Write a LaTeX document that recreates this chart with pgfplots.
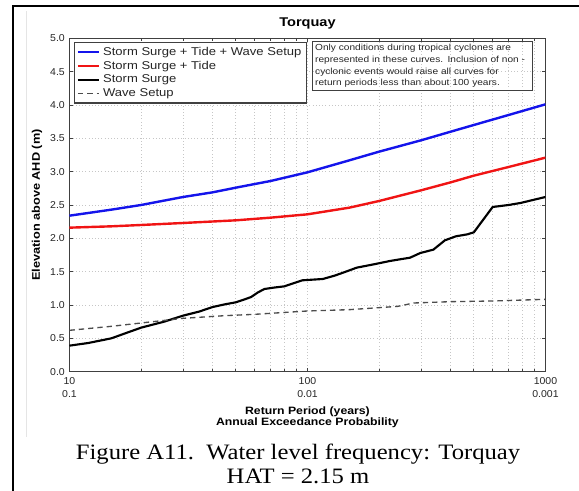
\documentclass[border=0pt]{standalone}
\usepackage{pgfplots}
\pgfplotsset{compat=1.18}
\usepackage{fontspec}
\setmainfont{Liberation Sans}[FakeStretch=1.15]
\newfontfamily\tickfont{Liberation Sans}[FakeStretch=1.05]
\newfontfamily\timesfont{Liberation Serif}[FakeStretch=1.12]
\definecolor{surgeblue}{RGB}{20,20,235}
\definecolor{surgered}{RGB}{240,20,20}

\begin{document}
\begin{tikzpicture}
\path[use as bounding box] (0,0) rectangle (434.25pt,368.25pt);
% table cell border
\draw[line width=0.8pt] (9.75pt,0) -- (9.75pt,363.75pt) -- (434.25pt,363.75pt);
\draw[gray!20,line width=0.6pt] (19.5pt,40.5pt) -- (19.5pt,360pt);

\begin{axis}[
 at={(52.1pt,89.5pt)},anchor=south west,
 scale only axis,width=357pt,height=250pt,
 xmode=log,xmin=10,xmax=1000,ymin=0,ymax=5,
 xtick={10,100,1000},
 xticklabels={{10\\0.1},{100\\0.01},{1000\\0.001}},
 ytick={0,0.5,...,5},
 yticklabel style={/pgf/number format/.cd,fixed,fixed zerofill,precision=1},
 /pgf/number format/assume math mode=true,
 tick label style={font=\tickfont\fontsize{7.5}{9.75}\selectfont,text=black!85},
 xticklabel style={align=center,yshift=-1pt},
 tick align=inside,
 major tick length=3pt,minor tick length=2pt,
 tick style={black!75,line width=0.5pt},
 axis line style={black!75,line width=0.8pt},
 grid=both,
 major grid style={gray!45,dotted,line width=0.5pt},
 minor grid style={gray!45,dotted,line width=0.5pt},
 legend style={at={(rel axis cs:0.01,0.99)},anchor=north west,
   font=\fontsize{8.5}{10}\selectfont,draw=black!75,line width=0.8pt,
   inner sep=1.5pt,row sep=-1.2pt,cells={anchor=west},
   text=black!85},
 legend cell align=left,
 legend image code/.code={\draw[#1] (0pt,0pt) -- (16pt,0pt);},
]
\addplot[surgeblue,line width=1.8pt] coordinates {
 (10,2.34) (15,2.43) (20,2.50) (30,2.62) (40,2.69) (50,2.76) (70,2.86)
 (100,2.99) (150,3.17) (200,3.30) (300,3.47) (400,3.60) (500,3.70)
 (700,3.85) (1000,4.01)};
\addlegendentry{Storm Surge + Tide + Wave Setup}
\addplot[surgered,line width=1.8pt] coordinates {
 (10,2.16) (15,2.18) (20,2.20) (30,2.23) (50,2.27) (70,2.31) (100,2.36)
 (150,2.46) (200,2.56) (300,2.72) (400,2.84) (500,2.94) (700,3.07)
 (1000,3.21)};
\addlegendentry{Storm Surge + Tide}
\addplot[black,line width=1.6pt] coordinates {
 (10,0.39) (12,0.43) (15,0.50) (17,0.57) (20,0.66) (25,0.75) (30,0.84)
 (35,0.90) (40,0.97) (45,1.01) (50,1.04) (55,1.09) (58,1.12) (62,1.19)
 (66,1.24) (72,1.26) (80,1.28) (88,1.33) (95,1.37) (105,1.38) (116,1.39)
 (130,1.44) (145,1.50) (161,1.56) (190,1.61) (222,1.66) (270,1.71)
 (298,1.78) (338,1.83) (378,1.97) (420,2.03) (470,2.06) (500,2.09)
 (600,2.47) (700,2.50) (785,2.53) (1000,2.62)};
\addlegendentry{Storm Surge}
\addplot[black!70,line width=1pt,dash pattern=on 4pt off 3pt] coordinates {
 (10,0.62) (15,0.68) (20,0.73) (30,0.80) (45,0.84) (60,0.86) (100,0.91)
 (150,0.93) (200,0.96) (240,0.98) (280,1.03) (400,1.05) (600,1.06)
 (1000,1.085)};
\addlegendentry{Wave Setup}
\end{axis}

% note box
\node[draw=black!75,line width=0.8pt,anchor=north west,inner sep=2pt,
  text width=161pt,align=left,font=\fontsize{6.6}{8.8}\selectfont,text=black!85]
  at (234pt,337.5pt)
  {\mbox{Only conditions during tropical cyclones are}\\
   \mbox{represented in these curves. Inclusion of non -}\\
   \mbox{cyclonic events would raise all curves for}\\
   \mbox{return periods less than about 100 years.}};

% title and labels
\node[font=\fontsize{9.5}{11}\selectfont\bfseries] at (230.6pt,351pt) {Torquay};
\node[rotate=90,font=\fontsize{8.3}{9}\selectfont\bfseries] at (27.75pt,214.5pt)
  {Elevation above AHD (m)};
\node[align=center,font=\fontsize{8}{8.1}\selectfont\bfseries] at (230.6pt,55.6pt)
  {Return Period (years)\\Annual Exceedance Probability};

% caption
\node[align=center,font=\timesfont\fontsize{16.5}{18}\selectfont] at (223.5pt,20.25pt)
  {Figure A11.\ \ Water level frequency: Torquay\\HAT = 2.15 m};
\end{tikzpicture}
\end{document}
